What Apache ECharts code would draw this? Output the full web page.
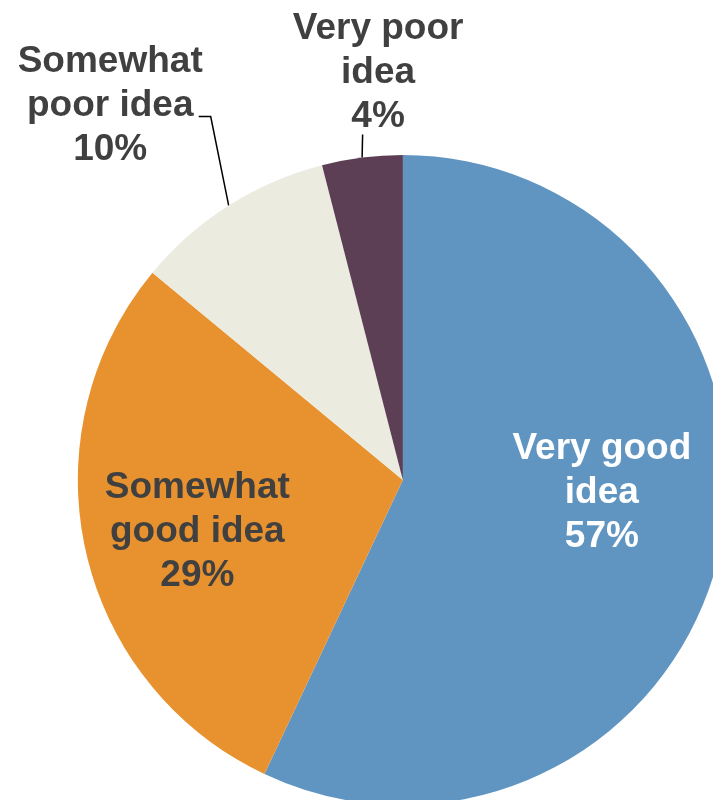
<!DOCTYPE html>
<html>
<head>
<meta charset="utf-8">
<script src="https://cdn.jsdelivr.net/npm/echarts@6/dist/echarts.min.js"></script>
<style>html,body{margin:0;padding:0;background:#fff;}#c{width:713px;height:800px;}</style>
</head>
<body>
<div id="c"></div>
<script>
var categories = ['Very good idea', 'Somewhat good idea', 'Somewhat poor idea', 'Very poor idea'];
var labelTexts = ['Very good\nidea', 'Somewhat\ngood idea', 'Somewhat\npoor idea', 'Very poor\nidea'];
var values = [57, 29, 10, 4];
var colors = ['#6095C2', '#E8922F', '#EBEBE0', '#5C3F55'];

var chart = echarts.init(document.getElementById('c'), null, {renderer: 'canvas'});

var labelStyles = [
  {position: 'inside', color: '#ffffff', offset: [37.5, -23]},
  {position: 'inside', color: '#404040', offset: [-44, 16]},
  {position: 'outside', color: '#404040'},
  {position: 'outside', color: '#404040'}
];

var data = values.map(function (v, i) {
  return {
    name: categories[i],
    value: v,
    itemStyle: {color: colors[i]},
    label: labelStyles[i]
  };
});

chart.setOption({
  animation: false,
  series: [{
    type: 'pie',
    center: ['56.5%', '60%'],
    radius: 325,
    startAngle: 90,
    clockwise: true,
    avoidLabelOverlap: false,
    itemStyle: {borderWidth: 0},
    label: {
      show: true,
      fontFamily: 'Liberation Sans, Arial, sans-serif',
      fontWeight: 'bold',
      fontSize: 37,
      lineHeight: 44,
      align: 'center',
      formatter: function (p) { return labelTexts[p.dataIndex] + '\n' + p.value + '%'; }
    },
    labelLine: {show: true, length: 20, length2: 10, smooth: false, lineStyle: {color: '#000', width: 1.5}},
    labelLayout: function (p) {
      var pts = p.labelLinePoints;
      if (!pts || p.dataIndex < 2) return {};
      var e = pts[0];
      if (p.dataIndex === 2) {
        return {
          x: e[0] - 118.5, y: e[1] - 99.5, align: 'center', verticalAlign: 'middle',
          labelLinePoints: [[e[0], e[1]], [e[0] - 18, e[1] - 89], [e[0] - 30, e[1] - 89]]
        };
      }
      return {
        x: e[0] + 16, y: e[1] - 84.5, align: 'center', verticalAlign: 'middle',
        labelLinePoints: [[e[0], e[1]], [e[0] + 0.5, e[1] - 23], [e[0] + 0.5, e[1] - 23]]
      };
    },
    data: data
  }]
});
</script>
</body>
</html>
